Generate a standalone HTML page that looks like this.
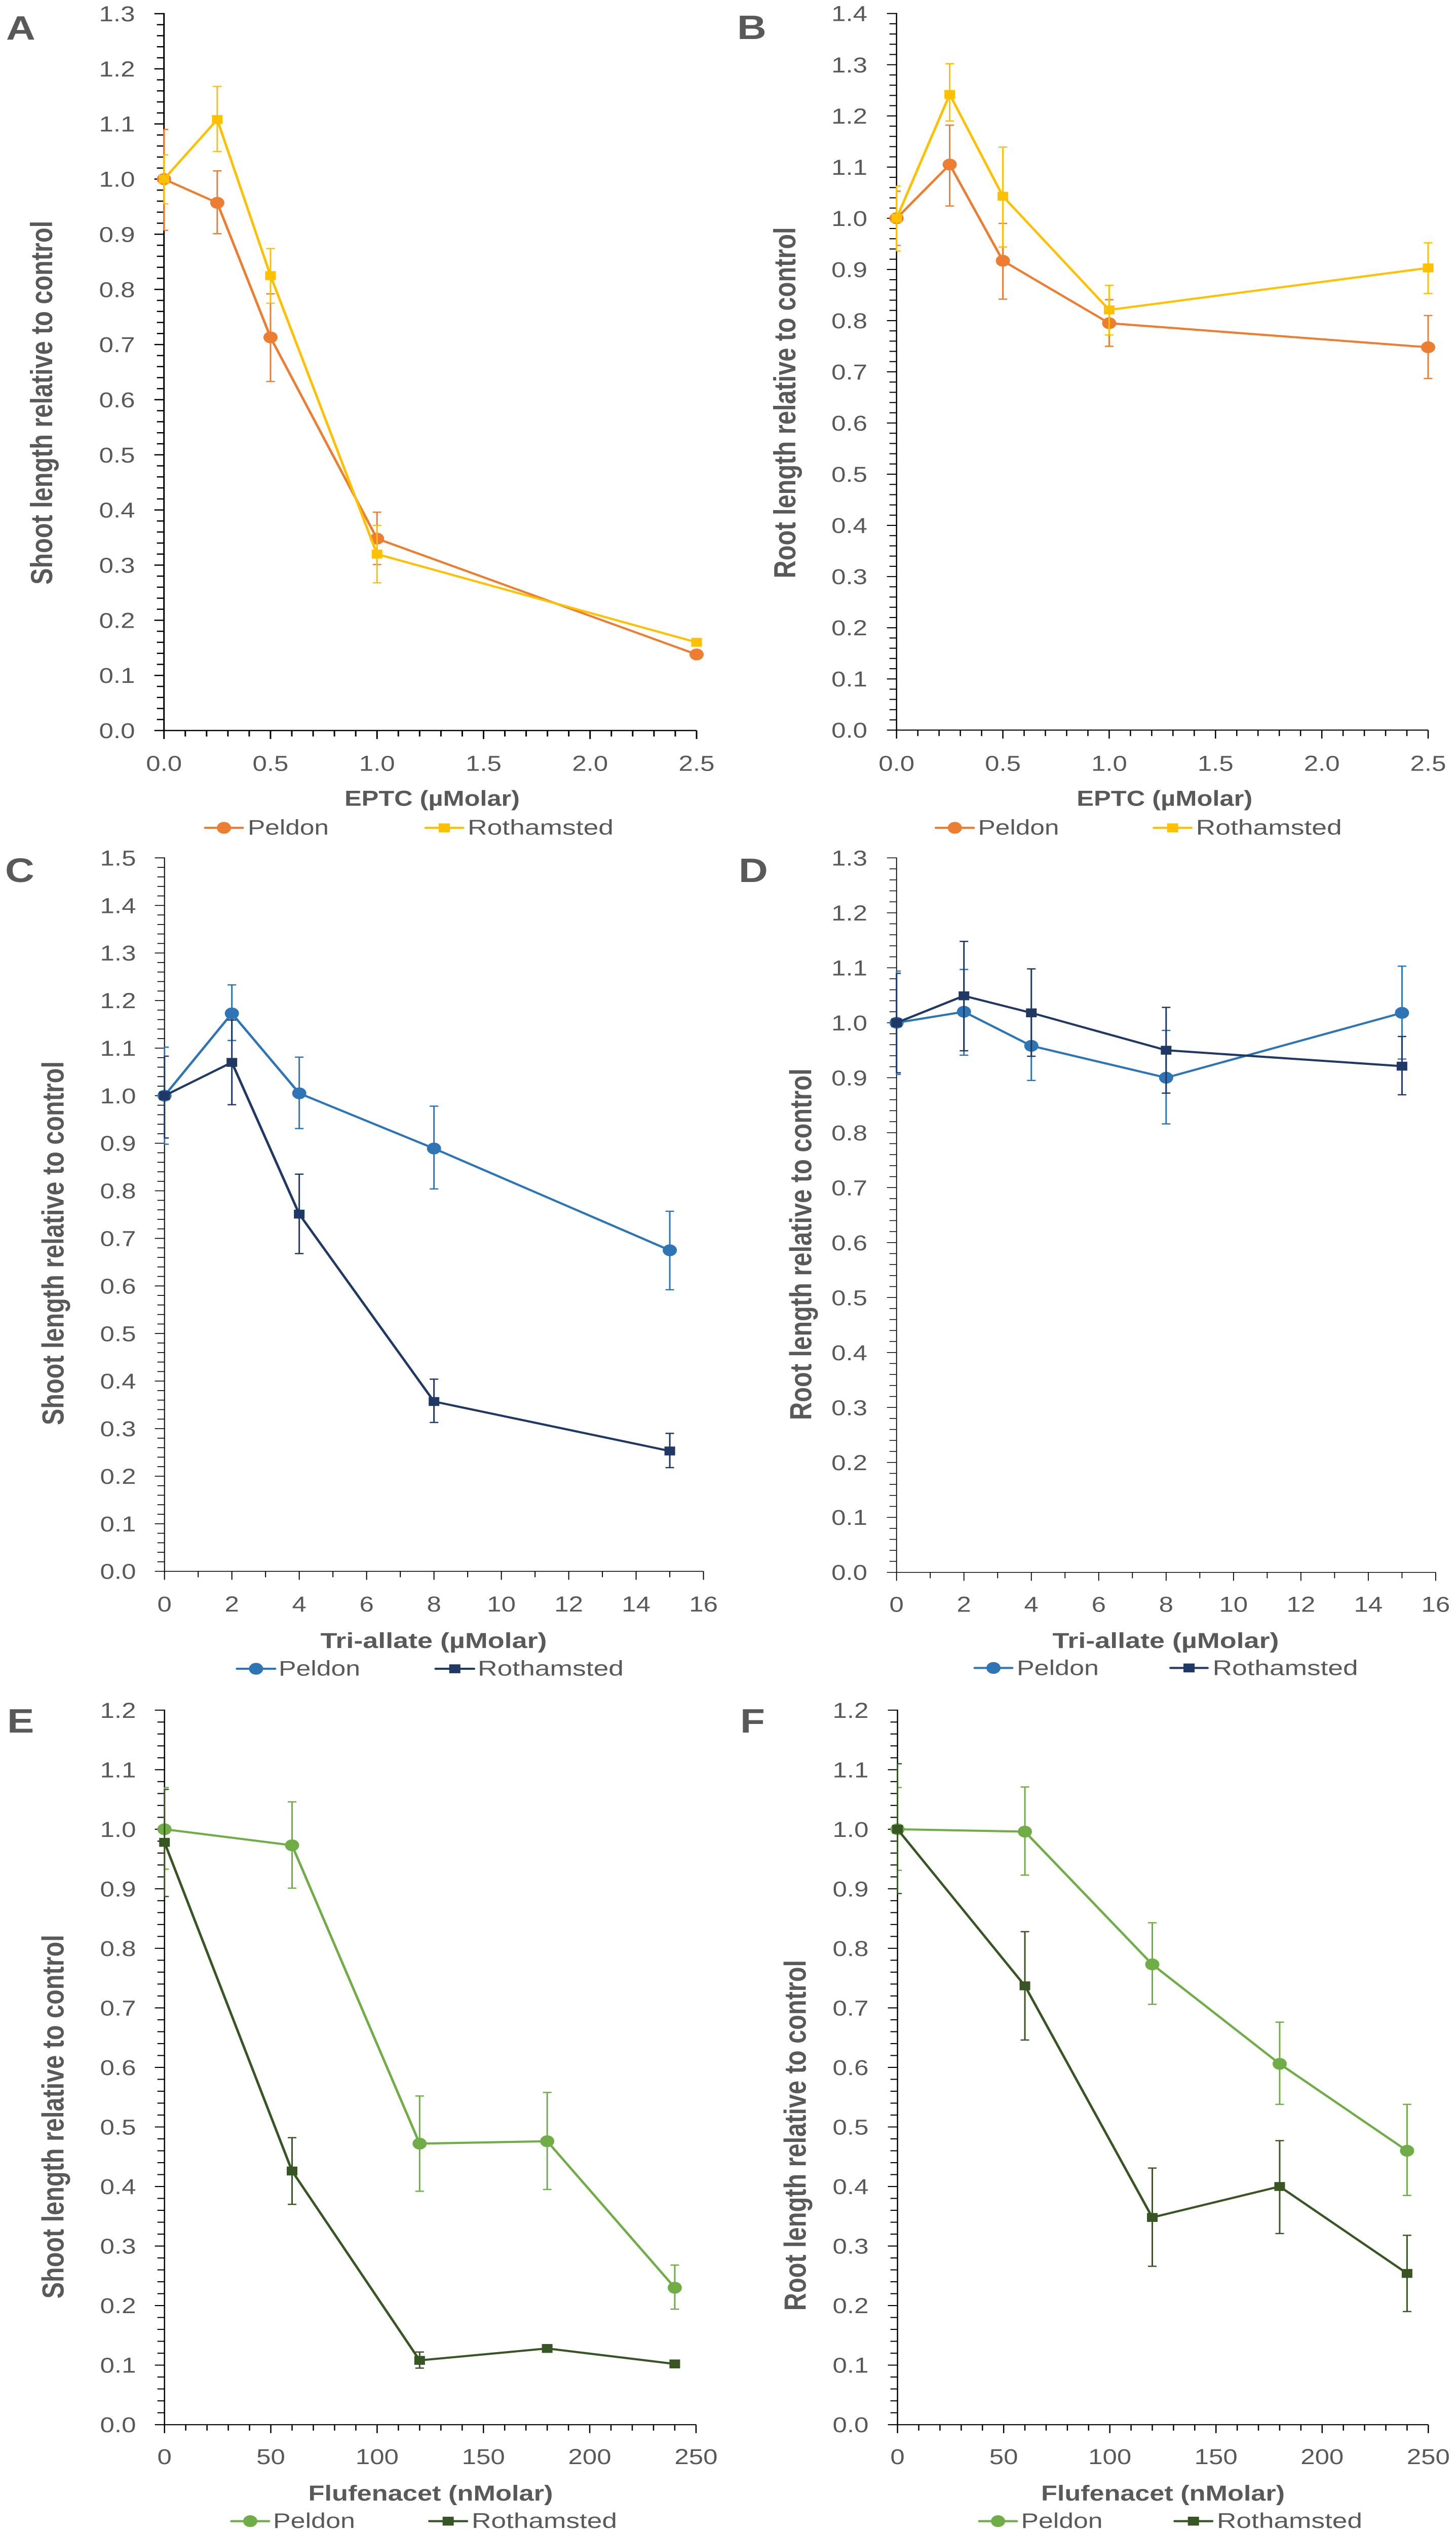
<!DOCTYPE html>
<html lang="en">
<head>
<meta charset="utf-8">
<title>Shoot and root length relative to control</title>
<style>
html,body{margin:0;padding:0;background:#fff;width:100%;height:100%;overflow:hidden;}
svg{display:block;width:100vw;height:100vh;}
text{font-family:"Liberation Sans",sans-serif;fill:#595959;}
</style>
</head>
<body>
<svg id="figure" xmlns="http://www.w3.org/2000/svg" viewBox="0 0 2874 5988" preserveAspectRatio="none"></svg>
<script>
// Panel A
const aXTicks = ['0.0','0.5','1.0','1.5','2.0','2.5'];
const aYTicks = ['0.0','0.1','0.2','0.3','0.4','0.5','0.6','0.7','0.8','0.9','1.0','1.1','1.2','1.3'];
const aDoses = [0, 0.25, 0.5, 1, 2.5];
const aPeldon = [1.0, 0.957, 0.713, 0.348, 0.138];
const aPeldonUpper = [1.09, 1.015, 0.792, 0.396, null];
const aPeldonLower = [0.907, 0.901, 0.633, 0.301, null];
const aRothamsted = [1.0, 1.108, 0.825, 0.32, 0.16];
const aRothamstedUpper = [1.044, 1.168, 0.874, 0.372, null];
const aRothamstedLower = [0.955, 1.05, 0.775, 0.268, null];

// Panel B
const bXTicks = ['0.0','0.5','1.0','1.5','2.0','2.5'];
const bYTicks = ['0.0','0.1','0.2','0.3','0.4','0.5','0.6','0.7','0.8','0.9','1.0','1.1','1.2','1.3','1.4'];
const bDoses = [0, 0.25, 0.5, 1, 2.5];
const bPeldon = [1.0, 1.105, 0.917, 0.795, 0.748];
const bPeldonUpper = [1.053, 1.182, 0.99, 0.841, 0.81];
const bPeldonLower = [0.947, 1.024, 0.842, 0.75, 0.687];
const bRothamsted = [1.0, 1.242, 1.043, 0.821, 0.903];
const bRothamstedUpper = [1.063, 1.302, 1.139, 0.869, 0.952];
const bRothamstedLower = [0.936, 1.19, 0.944, 0.772, 0.853];

// Panel C
const cXTicks = ['0','2','4','6','8','10','12','14','16'];
const cYTicks = ['0.0','0.1','0.2','0.3','0.4','0.5','0.6','0.7','0.8','0.9','1.0','1.1','1.2','1.3','1.4','1.5'];
const cDoses = [0, 2, 4, 8, 15];
const cPeldon = [1.0, 1.173, 1.005, 0.889, 0.675];
const cPeldonUpper = [1.102, 1.233, 1.081, 0.978, 0.757];
const cPeldonLower = [0.898, 1.116, 0.931, 0.804, 0.592];
const cRothamsted = [1.0, 1.07, 0.751, 0.357, 0.253];
const cRothamstedUpper = [1.083, 1.159, 0.835, 0.404, 0.29];
const cRothamstedLower = [0.911, 0.981, 0.668, 0.313, 0.218];

// Panel D
const dXTicks = ['0','2','4','6','8','10','12','14','16'];
const dYTicks = ['0.0','0.1','0.2','0.3','0.4','0.5','0.6','0.7','0.8','0.9','1.0','1.1','1.2','1.3'];
const dDoses = [0, 2, 4, 8, 15];
const dPeldon = [1.0, 1.02, 0.958, 0.9, 1.018];
const dPeldonUpper = [1.094, 1.097, 1.021, 0.986, 1.103];
const dPeldonLower = [0.906, 0.941, 0.895, 0.816, 0.934];
const dRothamsted = [1.0, 1.049, 1.018, 0.95, 0.921];
const dRothamstedUpper = [1.09, 1.148, 1.098, 1.028, 0.975];
const dRothamstedLower = [0.909, 0.949, 0.939, 0.872, 0.869];

// Panel E
const eXTicks = ['0','50','100','150','200','250'];
const eYTicks = ['0.0','0.1','0.2','0.3','0.4','0.5','0.6','0.7','0.8','0.9','1.0','1.1','1.2'];
const eDoses = [0, 60, 120, 180, 240];
const ePeldon = [1.0, 0.973, 0.472, 0.476, 0.23];
const ePeldonUpper = [1.07, 1.046, 0.552, 0.558, 0.268];
const ePeldonLower = [0.933, 0.901, 0.392, 0.395, 0.194];
const eRothamsted = [0.978, 0.426, 0.108, 0.128, 0.102];
const eRothamstedUpper = [1.067, 0.482, 0.122, null, null];
const eRothamstedLower = [0.887, 0.37, 0.095, null, null];

// Panel F
const fXTicks = ['0','50','100','150','200','250'];
const fYTicks = ['0.0','0.1','0.2','0.3','0.4','0.5','0.6','0.7','0.8','0.9','1.0','1.1','1.2'];
const fDoses = [0, 60, 120, 180, 240];
const fPeldon = [1.0, 0.996, 0.773, 0.606, 0.46];
const fPeldonUpper = [1.07, 1.071, 0.843, 0.676, 0.538];
const fPeldonLower = [0.931, 0.923, 0.706, 0.538, 0.385];
const fRothamsted = [1.0, 0.737, 0.348, 0.4, 0.254];
const fRothamstedUpper = [1.11, 0.828, 0.431, 0.477, 0.318];
const fRothamstedLower = [0.892, 0.646, 0.266, 0.321, 0.19];

const NS = 'http://www.w3.org/2000/svg';
const figure = document.getElementById('figure');

function make(parent, tag, attrs, content) {
  const node = document.createElementNS(NS, tag);
  for (const key in attrs) node.setAttribute(key, attrs[key]);
  if (content !== undefined) node.textContent = content;
  parent.appendChild(node);
  return node;
}

function drawSeries(g, p, s, xs, sx, sy) {
  const name = s.name.toLowerCase();
  const sg = make(g, 'g', {});
  
  
  xs.forEach(function (v, i) {
    if (s.upper[i] === null) return;
    const ex = sx(v);
    const capL = Math.max(ex - 8.5, p.left);
    const bar = make(sg, 'path', {
      d: 'M' + ex + ' ' + sy(s.upper[i]) + 'V' + sy(s.lower[i]) +
         'M' + capL + ' ' + sy(s.upper[i]) + 'H' + (ex + 8.5) +
         'M' + capL + ' ' + sy(s.lower[i]) + 'H' + (ex + 8.5),
      fill: 'none', stroke: s.color, 'stroke-width': 3
    });
    
    
  });
  const pts = xs.map(function (v, i) { return sx(v) + ',' + sy(s.values[i]); }).join(' ');
  const line = make(sg, 'polyline', { points: pts, fill: 'none', stroke: s.color, 'stroke-width': 5, 'stroke-linejoin': 'round' });
  
  
  xs.forEach(function (v, i) {
    const mx = sx(v), my = sy(s.values[i]);
    let mark;
    if (s.shape === 'circle') {
      mark = make(sg, 'circle', { cx: mx, cy: my, r: 14, fill: s.color });
    } else {
      mark = make(sg, 'rect', { x: mx - 10.5, y: my - 10.5, width: 21, height: 21, fill: s.color });
    }
    
    
  });
}

function drawLegendEntry(g, s, lx1, lx2, cy, tx, tw, base) {
  const lg = make(g, 'g', {});
  
  
  const key = make(lg, 'line', { x1: lx1, x2: lx2, y1: cy, y2: cy, stroke: s.color, 'stroke-width': 5, 'stroke-linecap': 'round' });
  
  
  const c = (lx1 + lx2) / 2;
  let sym;
  if (s.shape === 'circle') {
    sym = make(lg, 'circle', { cx: c, cy: cy, r: 14, fill: s.color });
  } else {
    sym = make(lg, 'rect', { x: c - 11, y: cy - 10.5, width: 22, height: 21, fill: s.color });
  }
  
  
  const label = make(lg, 'text', { x: tx, y: base, 'font-size': 50, textLength: tw, lengthAdjust: 'spacingAndGlyphs' }, s.name);
  
  
}

function drawPanel(p) {
  const g = make(figure, 'g', {});
  
  

  const xMax = parseFloat(p.xTicks[p.xTicks.length - 1]);
  const xMin = parseFloat(p.xTicks[0]);
  const yMax = parseFloat(p.yTicks[p.yTicks.length - 1]);
  const sx = function (v) { return p.left + (v - xMin) / (xMax - xMin) * (p.right - p.left); };
  const sy = function (v) { return p.bottom - v / yMax * (p.bottom - p.top); };

  const letter = make(g, 'text', { x: p.letterX, y: p.letterY, 'font-size': 80, 'font-weight': 'bold' }, p.letter);
  
  

  // y axis ticks and labels
  const yStep = parseFloat(p.yTicks[1]) - parseFloat(p.yTicks[0]);
  p.yTicks.forEach(function (label, i) {
    const v = parseFloat(label);
    const tick = make(g, 'line', { x1: p.left - 19, x2: p.left, y1: sy(v), y2: sy(v), stroke: '#000', 'stroke-width': p.axisW });
    
    
    const t = make(g, 'text', { x: p.yLabelX, y: sy(v) + 18, 'font-size': 51, 'text-anchor': 'middle' }, label);
    
    
    if (i < p.yTicks.length - 1) {
      for (let k = 1; k < p.yMinor; k++) {
        const m = make(g, 'line', { x1: p.left - 14, x2: p.left, y1: sy(v + yStep * k / p.yMinor), y2: sy(v + yStep * k / p.yMinor), stroke: '#000', 'stroke-width': p.axisW });
        
        
      }
    }
  });

  // x axis ticks and labels
  const xStep = parseFloat(p.xTicks[1]) - parseFloat(p.xTicks[0]);
  p.xTicks.forEach(function (label, i) {
    const v = parseFloat(label);
    const tick = make(g, 'line', { x1: sx(v), x2: sx(v), y1: p.bottom, y2: p.bottom + 20, stroke: '#000', 'stroke-width': p.axisW });
    
    
    const t = make(g, 'text', { x: sx(v), y: p.bottom + p.xLabelDy, 'font-size': 51, 'text-anchor': 'middle' }, label);
    
    
    if (i < p.xTicks.length - 1) {
      for (let k = 1; k < p.xMinor; k++) {
        const m = make(g, 'line', { x1: sx(v + xStep * k / p.xMinor), x2: sx(v + xStep * k / p.xMinor), y1: p.bottom, y2: p.bottom + 14, stroke: '#000', 'stroke-width': p.axisW });
        
        
      }
    }
  });

  const yAxis = make(g, 'line', { x1: p.left, x2: p.left, y1: p.top - p.axisW / 2, y2: p.bottom + p.axisW / 2, stroke: '#000', 'stroke-width': p.axisW });
  
  
  const xAxis = make(g, 'line', { x1: p.left, x2: p.right, y1: p.bottom, y2: p.bottom, stroke: '#000', 'stroke-width': p.axisW });
  
  

  // axis titles
  const yt = make(g, 'text', {
    x: p.yTitleX, y: p.yTitleY, 'font-size': 60, 'font-weight': 'bold', 'text-anchor': 'middle',
    textLength: p.yTitleLen, lengthAdjust: 'spacingAndGlyphs',
    transform: 'rotate(-90 ' + p.yTitleX + ' ' + p.yTitleY + ')'
  }, p.yTitle);
  
  
  const xt = make(g, 'text', {
    x: p.xTitleX, y: p.xTitleY, 'font-size': 51, 'font-weight': 'bold', 'text-anchor': 'middle',
    textLength: p.xTitleLen, lengthAdjust: 'spacingAndGlyphs'
  }, p.xTitle);
  
  

  // series
  const s1 = { name: 'Peldon', color: p.c1, shape: 'circle', values: p.s1, upper: p.s1u, lower: p.s1l };
  const s2 = { name: 'Rothamsted', color: p.c2, shape: 'square', values: p.s2, upper: p.s2u, lower: p.s2l };
  drawSeries(g, p, s1, p.doses, sx, sy);
  drawSeries(g, p, s2, p.doses, sx, sy);

  // legend
  const lg = p.legend;
  drawLegendEntry(g, s1, lg.a1, lg.a2, lg.cy, lg.at, lg.aw, lg.base);
  drawLegendEntry(g, s2, lg.b1, lg.b2, lg.cy, lg.bt, lg.bw, lg.base);
}

const ORANGE = '#ED7D31', YELLOW = '#FFC000', BLUE = '#2E75B6', NAVY = '#1F3864', GREEN = '#70AD47', DGREEN = '#375623';

drawPanel({ letter: 'A', letterX: 12, letterY: 94, left: 323.7, right: 1375, top: 32.3, bottom: 1727, axisW: 3, yMinor: 5, xMinor: 5,
  xTicks: aXTicks, yTicks: aYTicks, doses: aDoses, s1: aPeldon, s1u: aPeldonUpper, s1l: aPeldonLower, s2: aRothamsted, s2u: aRothamstedUpper, s2l: aRothamstedLower,
  c1: ORANGE, c2: YELLOW, yLabelX: 231, xLabelDy: 95, yTitle: 'Shoot length relative to control', yTitleX: 103, yTitleY: 952, yTitleLen: 860,
  xTitle: 'EPTC (µMolar)', xTitleX: 853, xTitleY: 1905, xTitleLen: 346,
  legend: { a1: 405, a2: 479, at: 489, aw: 160, b1: 840, b2: 914, bt: 923, bw: 288, cy: 1957, base: 1973 } });

drawPanel({ letter: 'B', letterX: 1455, letterY: 92, left: 1769.7, right: 2819, top: 32, bottom: 1726, axisW: 2.5, yMinor: 5, xMinor: 5,
  xTicks: bXTicks, yTicks: bYTicks, doses: bDoses, s1: bPeldon, s1u: bPeldonUpper, s1l: bPeldonLower, s2: bRothamsted, s2u: bRothamstedUpper, s2l: bRothamstedLower,
  c1: ORANGE, c2: YELLOW, yLabelX: 1676.6, xLabelDy: 96, yTitle: 'Root length relative to control', yTitleX: 1570, yTitleY: 952, yTitleLen: 830,
  xTitle: 'EPTC (µMolar)', xTitleX: 2298.7, xTitleY: 1905, xTitleLen: 347,
  legend: { a1: 1847.4, a2: 1922, at: 1930.5, aw: 160, b1: 2277.6, b2: 2351.6, bt: 2360.7, bw: 288, cy: 1957, base: 1973 } });

drawPanel({ letter: 'C', letterX: 10, letterY: 2085, left: 324.7, right: 1388.6, top: 2028, bottom: 3714.6, axisW: 2, yMinor: 5, xMinor: 2,
  xTicks: cXTicks, yTicks: cYTicks, doses: cDoses, s1: cPeldon, s1u: cPeldonUpper, s1l: cPeldonLower, s2: cRothamsted, s2u: cRothamstedUpper, s2l: cRothamstedLower,
  c1: BLUE, c2: NAVY, yLabelX: 233, xLabelDy: 95, yTitle: 'Shoot length relative to control', yTitleX: 125.7, yTitleY: 2939, yTitleLen: 860,
  xTitle: 'Tri-allate (µMolar)', xTitleX: 856, xTitleY: 3895.6, xTitleLen: 447,
  legend: { a1: 467.8, a2: 543, at: 550, aw: 161, b1: 860, b2: 935.5, bt: 943, bw: 288, cy: 3945, base: 3961 } });

drawPanel({ letter: 'D', letterX: 1458, letterY: 2085, left: 1769.7, right: 2833.9, top: 2028, bottom: 3717, axisW: 1.8, yMinor: 5, xMinor: 2,
  xTicks: dXTicks, yTicks: dYTicks, doses: dDoses, s1: dPeldon, s1u: dPeldonUpper, s1l: dPeldonLower, s2: dRothamsted, s2u: dRothamstedUpper, s2l: dRothamstedLower,
  c1: BLUE, c2: NAVY, yLabelX: 1676.6, xLabelDy: 93, yTitle: 'Root length relative to control', yTitleX: 1601.7, yTitleY: 2941.5, yTitleLen: 831,
  xTitle: 'Tri-allate (µMolar)', xTitleX: 2301, xTitleY: 3895.6, xTitleLen: 447,
  legend: { a1: 1924, a2: 1998, at: 2007, aw: 162, b1: 2310.5, b2: 2383.5, bt: 2393.6, bw: 287, cy: 3943, base: 3960 } });

drawPanel({ letter: 'E', letterX: 14, letterY: 4096, left: 324.7, right: 1373.9, top: 4042.8, bottom: 5731.9, axisW: 2.5, yMinor: 5, xMinor: 5,
  xTicks: eXTicks, yTicks: eYTicks, doses: eDoses, s1: ePeldon, s1u: ePeldonUpper, s1l: ePeldonLower, s2: eRothamsted, s2u: eRothamstedUpper, s2l: eRothamstedLower,
  c1: GREEN, c2: DGREEN, yLabelX: 233, xLabelDy: 93, yTitle: 'Shoot length relative to control', yTitleX: 125.7, yTitleY: 5004, yTitleLen: 860,
  xTitle: 'Flufenacet (nMolar)', xTitleX: 850, xTitleY: 5911.6, xTitleLen: 483,
  legend: { a1: 456.8, a2: 531, at: 539, aw: 162, b1: 847.5, b2: 921.8, bt: 931, bw: 287, cy: 5960, base: 5976 } });

drawPanel({ letter: 'F', letterX: 1461, letterY: 4096, left: 1771.6, right: 2819.3, top: 4042.8, bottom: 5731.9, axisW: 2.5, yMinor: 5, xMinor: 5,
  xTicks: fXTicks, yTicks: fYTicks, doses: fDoses, s1: fPeldon, s1u: fPeldonUpper, s1l: fPeldonLower, s2: fRothamsted, s2u: fRothamstedUpper, s2l: fRothamstedLower,
  c1: GREEN, c2: DGREEN, yLabelX: 1679, xLabelDy: 93, yTitle: 'Root length relative to control', yTitleX: 1590.7, yTitleY: 5048, yTitleLen: 829,
  xTitle: 'Flufenacet (nMolar)', xTitleX: 2295.5, xTitleY: 5911.6, xTitleLen: 481,
  legend: { a1: 1933, a2: 2007, at: 2015.5, aw: 161, b1: 2318.7, b2: 2392.7, bt: 2402, bw: 287, cy: 5960, base: 5976 } });
</script>
</body>
</html>
